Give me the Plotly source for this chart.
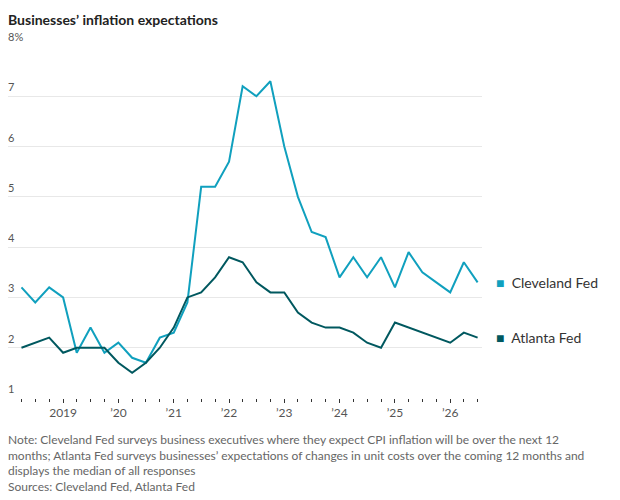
import plotly.graph_objects as go
import pandas as pd

dates = pd.date_range("2018-04-01", periods=34, freq="QS").strftime("%Y-%m-%d").tolist()
cleveland = [3.2,2.9,3.2,3.0,1.9,2.4,1.9,2.1,1.8,1.7,2.2,2.3,2.9,5.2,5.2,5.7,7.2,7.0,7.3,6.0,
             5.0,4.3,4.2,3.4,3.8,3.4,3.8,3.2,3.9,3.5,3.3,3.1,3.7,3.3]
atlanta = [2.0,2.1,2.2,1.9,2.0,2.0,2.0,1.7,1.5,1.7,2.0,2.4,3.0,3.1,3.4,3.8,3.7,3.3,3.1,3.1,
           2.7,2.5,2.4,2.4,2.3,2.1,2.0,2.5,2.4,2.3,2.2,2.1,2.3,2.2]
year_ticks = ["2019-01-01","2020-01-01","2021-01-01","2022-01-01","2023-01-01","2024-01-01","2025-01-01","2026-01-01"]
year_labels = ["2019","’20","’21","’22","’23","’24","’25","’26"]
y_ticks = [1,2,3,4,5,6,7,8]
y_labels = ["1","2","3","4","5","6","7","8%"]

C1, C2 = "#10A0BE", "#00585F"
FONT = "Lato"
fig = go.Figure()
fig.add_trace(go.Scatter(x=dates, y=cleveland, mode="lines", line=dict(color=C1, width=2), name="Cleveland Fed"))
fig.add_trace(go.Scatter(x=dates, y=atlanta, mode="lines", line=dict(color=C2, width=2), name="Atlanta Fed"))

L, R, T, B = 0, 146, 38, 110
fig.update_layout(
    width=620, height=500, margin=dict(l=L, r=R, t=T, b=B),
    plot_bgcolor="white", paper_bgcolor="white", showlegend=False,
    font=dict(family=FONT, size=12, color="#333"),
    title=dict(text="<b>Businesses’ inflation expectations</b>", x=0.0, xref="container", xanchor="left",
               y=0.985, yref="container", yanchor="top", font=dict(size=14, color="#222")),
    xaxis=dict(range=["2018-01-02","2026-07-30"], tickvals=year_ticks, ticktext=year_labels,
               ticks="outside", ticklen=4, tickcolor="#333", showgrid=False, zeroline=False,
               showline=False, tickfont=dict(size=12, color="#555"),
               minor=dict(dtick="M3", tick0="2018-01-01", ticks="outside", ticklen=3, tickcolor="#333", showgrid=False)),
    yaxis=dict(range=[1,8], tickvals=y_ticks, showticklabels=False, showgrid=True,
               gridcolor="#e8e8e8", gridwidth=1, zeroline=False, showline=False),
)
for v, t in zip(y_ticks, y_labels):
    fig.add_annotation(x=0, xref="paper", y=v, yref="y", text=t, showarrow=False,
                       xanchor="left", yanchor="bottom", font=dict(size=11, color="#555"), yshift=1, xshift=-2)
for name, vals, col in [("Cleveland Fed", cleveland, C1), ("Atlanta Fed", atlanta, C2)]:
    fig.add_annotation(x=1, xref="paper", xshift=12, y=vals[-1], yref="y", text=f"<span style='color:{col}'>■</span>  {name}",
                       showarrow=False, xanchor="left", font=dict(size=14, color="#333"))
note = ("Note: Cleveland Fed surveys business executives where they expect CPI inflation will be over the next 12<br>"
        "months; Atlanta Fed surveys businesses’ expectations of changes in unit costs over the coming 12 months and<br>"
        "displays the median of all responses<br>Sources: Cleveland Fed, Atlanta Fed")
fig.add_annotation(x=0, xref="paper", xshift=-2, y=0, yref="paper", yshift=-32, text=note, showarrow=False,
                   xanchor="left", yanchor="top", align="left", font=dict(size=12, color="#666"))
fig.write_html("out.html")
